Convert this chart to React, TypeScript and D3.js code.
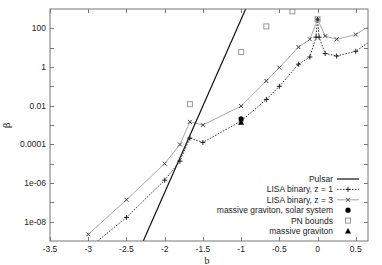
import { useEffect, useRef } from "react";
import * as d3 from "d3";

// LISA binary, z = 1
const bZ1 = [-3, -2.5, -2, -1.8, -1.67, -1.5, -1, -0.67, -0.5, -0.25, -0.1, -0.02, 0, 0.02, 0.1, 0.25, 0.5, 0.75];
const betaZ1 = [4e-10, 1.66e-8, 1.4e-6, 1.35e-5, 2.1e-4, 1.26e-4, 1.6e-3, 0.021, 0.1, 1.4, 3.3, 35, 295, 35, 5.0, 3.7, 6.5, 32];

// LISA binary, z = 3
const bZ3 = [-3, -2.5, -2, -1.8, -1.67, -1.5, -1, -0.67, -0.5, -0.25, -0.1, 0, 0.1, 0.25, 0.5, 0.75];
const betaZ3 = [2.2e-9, 1.35e-7, 1.0e-5, 9.8e-5, 1.45e-3, 1.0e-3, 9.5e-3, 0.19, 0.93, 10.7, 27, 295, 40, 27, 48, 195];

// Pulsar bound (straight line in log space)
const bPulsar = [-2.28, -0.94];
const betaPulsar = [1e-9, 1e3];

// PN bounds
const bPN = [-1.67, -1, -0.67, -0.33, 0];
const betaPN = [0.012, 6.0, 126, 760, 295];

// massive graviton
const bSolar = [-1];
const betaSolar = [2.1e-3];
const bGraviton = [-1];
const betaGraviton = [1.4e-3];

const xTicks = [-3.5, -3, -2.5, -2, -1.5, -1, -0.5, 0, 0.5];
const yTicks = [1e-8, 1e-6, 1e-4, 1e-2, 1, 100];
const yTickLabels = ["1e-08", "1e-06", "0.0001", "0.01", "1", "100"];
const yMinorTicks = [1e-7, 1e-5, 1e-3, 0.1, 10];

const legendLabels = ["Pulsar", "LISA binary, z = 1", "LISA binary, z = 3", "massive graviton, solar system", "PN bounds", "massive graviton"];

const W = 382;
const H = 265;
const margin = { top: 9, right: 14, bottom: 24, left: 50 };
const font = "'Liberation Sans', Arial, Helvetica, sans-serif";

const plusPath = "M-2.5,0H2.5M0,-2.5V2.5";
const crossPath = "M-2,-2L2,2M-2,2L2,-2";

const App = () => {
    const svgRef = useRef<SVGSVGElement>(null);

    useEffect(() => {
        const svg = d3.select(svgRef.current);
        svg.selectAll("*").remove();

        const x = d3.scaleLinear().domain([-3.5, 0.66]).range([margin.left, W - margin.right]);
        const y = d3.scaleLog().domain([1e-9, 1e3]).range([H - margin.bottom, margin.top]);
        const [x0, x1] = x.range();
        const [y0, y1] = y.range();

        svg.append("defs").append("clipPath").attr("id", "plotclip")
            .append("rect").attr("x", x0).attr("y", y1).attr("width", x1 - x0).attr("height", y0 - y1);

        // ticks (mirrored on all sides)
        const tk = svg.append("g").attr("stroke", "#777").attr("stroke-width", 1);
        xTicks.forEach(t => {
            const px = Math.round(x(t)) + 0.5;
            tk.append("line").attr("x1", px).attr("x2", px).attr("y1", y0).attr("y2", y0 - 4);
            tk.append("line").attr("x1", px).attr("x2", px).attr("y1", y1).attr("y2", y1 + 4);
        });
        [...yTicks, ...yMinorTicks].forEach(t => {
            const py = Math.round(y(t)) + 0.5;
            tk.append("line").attr("x1", x0).attr("x2", x0 + 4).attr("y1", py).attr("y2", py);
            tk.append("line").attr("x1", x1).attr("x2", x1 - 4).attr("y1", py).attr("y2", py);
        });

        // tick labels
        svg.append("g").selectAll("text").data(xTicks).join("text")
            .attr("x", d => x(d)).attr("y", y0 + 11)
            .attr("text-anchor", "middle")
            .attr("font-family", font).attr("font-size", 8.5).attr("fill", "#222")
            .text(d => String(d));
        svg.append("g").selectAll("text").data(yTicks).join("text")
            .attr("x", x0 - 4).attr("y", d => y(d)).attr("dy", "0.35em")
            .attr("text-anchor", "end")
            .attr("font-family", font).attr("font-size", 8.5).attr("fill", "#222")
            .text((d, i) => yTickLabels[i]);

        // axis titles
        svg.append("text").attr("transform", `translate(10,${(y0 + y1) / 2}) rotate(-90)`)
            .attr("text-anchor", "middle").attr("font-family", "'DejaVu Serif', 'Liberation Serif', serif")
            .attr("font-size", 10).attr("fill", "#222").text("β");
        svg.append("text").attr("x", (x0 + x1) / 2 - 2).attr("y", 263.5)
            .attr("text-anchor", "middle").attr("font-family", "'Liberation Serif', serif")
            .attr("font-size", 10).attr("fill", "#222").text("b");

        const plot = svg.append("g").attr("clip-path", "url(#plotclip)");
        const line = d3.line<[number, number]>().x(d => x(d[0])).y(d => y(d[1]));

        // LISA z = 3
        const z3 = bZ3.map((b, i) => [b, betaZ3[i]] as [number, number]);
        plot.append("path").attr("d", line(z3)).attr("fill", "none").attr("stroke", "#a8a8a8").attr("stroke-width", 1);
        plot.append("g").selectAll("path").data(z3).join("path")
            .attr("transform", d => `translate(${x(d[0])},${y(d[1])})`)
            .attr("d", crossPath).attr("stroke", "#444").attr("stroke-width", 1);

        // LISA z = 1
        const z1 = bZ1.map((b, i) => [b, betaZ1[i]] as [number, number]);
        plot.append("path").attr("d", line(z1)).attr("fill", "none").attr("stroke", "#333")
            .attr("stroke-width", 1).attr("stroke-dasharray", "1.5,1.5");
        plot.append("g").selectAll("path").data(z1).join("path")
            .attr("transform", d => `translate(${x(d[0])},${y(d[1])})`)
            .attr("d", plusPath).attr("stroke", "#222").attr("stroke-width", 1);

        // Pulsar
        const pulsar = bPulsar.map((b, i) => [b, betaPulsar[i]] as [number, number]);
        plot.append("path").attr("d", line(pulsar)).attr("fill", "none").attr("stroke", "#111").attr("stroke-width", 1.2);

        // PN bounds
        plot.append("g").selectAll("rect").data(bPN).join("rect")
            .attr("x", d => x(d) - 2.5).attr("y", (d, i) => y(betaPN[i]) - 2.5)
            .attr("width", 5).attr("height", 5)
            .attr("fill", "none").attr("stroke", "#999").attr("stroke-width", 1);

        // massive graviton
        plot.append("g").selectAll("path").data(bGraviton).join("path")
            .attr("transform", (d, i) => `translate(${x(d)},${y(betaGraviton[i])})`)
            .attr("d", "M0,-3L3,2.5H-3Z").attr("fill", "#000");
        plot.append("g").selectAll("circle").data(bSolar).join("circle")
            .attr("cx", d => x(d)).attr("cy", (d, i) => y(betaSolar[i])).attr("r", 2.6).attr("fill", "#000");

        // border
        svg.append("rect").attr("x", x0).attr("y", y1).attr("width", x1 - x0).attr("height", y0 - y1)
            .attr("fill", "none").attr("stroke", "#777").attr("stroke-width", 1);

        // legend
        const lg = svg.append("g");
        const textRight = 333;
        const sx0 = 337, sx1 = 359, sxm = 348;
        legendLabels.forEach((label, i) => {
            const ly = 179 + i * 10.4;
            lg.append("text").attr("x", textRight).attr("y", ly).attr("dy", "0.35em")
                .attr("text-anchor", "end").attr("font-family", font).attr("font-size", 8.5).attr("fill", "#222")
                .text(label);
            if (i === 0) {
                lg.append("line").attr("x1", sx0).attr("x2", sx1).attr("y1", ly).attr("y2", ly)
                    .attr("stroke", "#111").attr("stroke-width", 1.2);
            } else if (i === 1) {
                lg.append("line").attr("x1", sx0).attr("x2", sx1).attr("y1", ly).attr("y2", ly)
                    .attr("stroke", "#333").attr("stroke-dasharray", "1.5,1.5");
                lg.append("path").attr("transform", `translate(${sxm},${ly})`).attr("d", plusPath).attr("stroke", "#222");
            } else if (i === 2) {
                lg.append("line").attr("x1", sx0).attr("x2", sx1).attr("y1", ly).attr("y2", ly)
                    .attr("stroke", "#a8a8a8");
                lg.append("path").attr("transform", `translate(${sxm},${ly})`).attr("d", crossPath).attr("stroke", "#444");
            } else if (i === 3) {
                lg.append("circle").attr("cx", sxm).attr("cy", ly).attr("r", 2.6).attr("fill", "#000");
            } else if (i === 4) {
                lg.append("rect").attr("x", sxm - 2.5).attr("y", ly - 2.5).attr("width", 5).attr("height", 5)
                    .attr("fill", "none").attr("stroke", "#999");
            } else {
                lg.append("path").attr("transform", `translate(${sxm},${ly})`).attr("d", "M0,-3L3,2.5H-3Z").attr("fill", "#000");
            }
        });
    }, []);

    return (
        <svg ref={svgRef} width={W} height={H}
            style={{ position: "absolute", left: 0, top: 0, background: "#fff" }} />
    );
};

export default App;
